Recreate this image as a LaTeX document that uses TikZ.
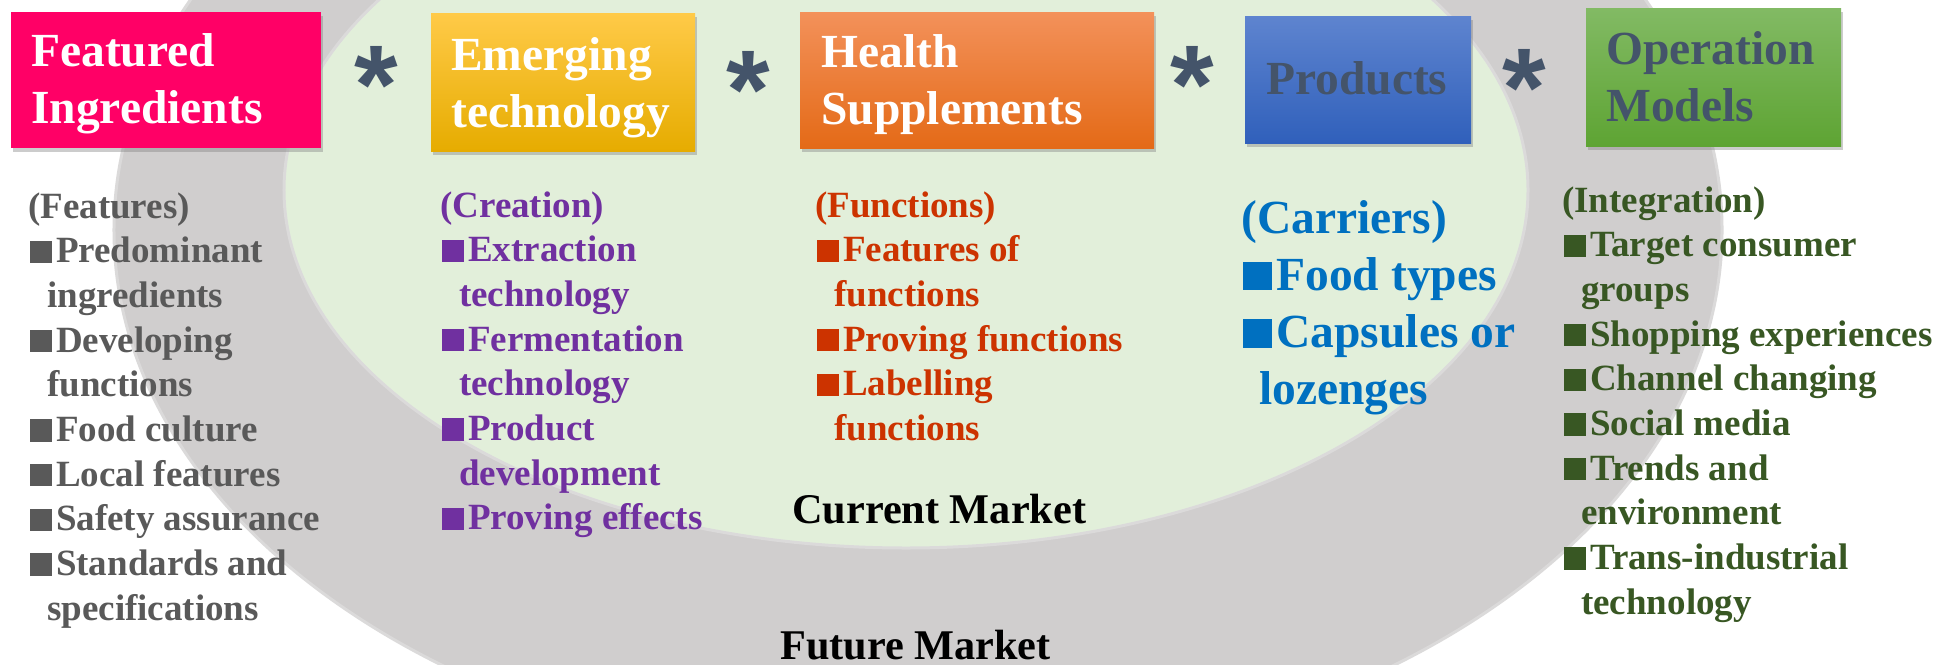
\documentclass[tikz,border=0pt]{standalone}
\usepackage{fontspec}
\setmainfont{Liberation Serif}
\newfontfamily\starfont{Liberation Sans}
\usetikzlibrary{shadows}

\definecolor{futuregray}{HTML}{D0CECE}
\definecolor{currentgreen}{HTML}{E2EFDA}
\definecolor{rimgray}{HTML}{DBDADA}
\definecolor{slate}{HTML}{44546A}
\definecolor{featpink}{HTML}{FF0066}
\definecolor{featgray}{HTML}{595959}
\definecolor{creapurple}{HTML}{7030A0}
\definecolor{funcred}{HTML}{CC3300}
\definecolor{carrblue}{HTML}{0070C0}
\definecolor{integreen}{HTML}{385723}

% square bullet and hanging indent for list lines
\newcommand\bul{\hspace*{2bp}\rule{0.6em}{0.6em}\hspace{0.1em}}
\newcommand\cont{\hspace*{19bp}}

\begin{document}
\begin{tikzpicture}[x=1bp,y=-1bp,
  box/.style={anchor=north west, inner sep=0, draw=none,
    drop shadow={opacity=0.4, shadow xshift=2bp, shadow yshift=-4bp}},
  title/.style={anchor=base west, inner sep=0,
    font=\bfseries\fontsize{47.5bp}{57bp}\selectfont},
  starmark/.style={anchor=north, inner sep=0, text=slate,
    font=\starfont\bfseries\fontsize{112bp}{112bp}\selectfont},
  listcol/.style={anchor=base west, inner sep=0,
    font=\bfseries\fontsize{37bp}{44.7bp}\selectfont},
  market/.style={anchor=base west, inner sep=0, text=black,
    font=\bfseries\fontsize{42.3bp}{50bp}\selectfont}]

\useasboundingbox (0,0) rectangle (1941,665);
\clip (0,0) rectangle (1941,665);
\fill[white] (0,0) rectangle (1941,665);

% market rings
\fill[futuregray, draw=rimgray, line width=3bp] (918,230) ellipse [x radius=804bp, y radius=540bp];
\fill[currentgreen, draw=rimgray, line width=3bp] (906,190) ellipse [x radius=622bp, y radius=358bp];

% factor boxes
\node[box, fill=featpink, minimum width=310bp, minimum height=136bp] (b1) at (11,12) {};
\node[box, top color={rgb,255:red,255;green,202;blue,72}, middle color={rgb,255:red,255;green,192;blue,0}, bottom color={rgb,255:red,230;green,172;blue,0}, minimum width=264bp, minimum height=138bp] (b2) at (431,13) {};
\node[box, top color={rgb,255:red,243;green,145;blue,90}, middle color={rgb,255:red,245;green,126;blue,44}, bottom color={rgb,255:red,228;green,106;blue,23}, minimum width=354bp, minimum height=136bp] (b3) at (800,12) {};
\node[box, top color={rgb,255:red,94;green,132;blue,207}, bottom color={rgb,255:red,48;green,96;blue,187}, minimum width=226bp, minimum height=127bp] (b4) at (1245,16) {};
\node[box, top color={rgb,255:red,130;green,186;blue,100}, bottom color={rgb,255:red,94;green,164;blue,51}, minimum width=255bp, minimum height=138bp] (b5) at (1586,8) {};

% box titles
\node[title, text=white] (t1) at (31,67) {\vtop{\hbox{Featured}\hbox{Ingredients}}};
\node[title, text=white] (t2) at (451,71) {\vtop{\hbox{Emerging}\hbox{technology}}};
\node[title, text=white] (t3) at (821,68) {\vtop{\hbox{Health}\hbox{Supplements}}};
\node[title, text=slate] (t4) at (1266,95) {Products};
\node[title, text=slate] (t5) at (1606,65) {\vtop{\hbox{Operation}\hbox{Models}}};

% multiplication marks
\node[starmark] (s1) at (376,46) {*};
\node[starmark] (s2) at (748,51) {*};
\node[starmark] (s3) at (1192,46) {*};
\node[starmark] (s4) at (1524,49) {*};

% lists under each box
\node[listcol, text=featgray] (l1) at (28,218) {\vtop{%
  \hbox{(Features)}
  \hbox{\bul Predominant}
  \hbox{\cont ingredients}
  \hbox{\bul Developing}
  \hbox{\cont functions}
  \hbox{\bul Food culture}
  \hbox{\bul Local features}
  \hbox{\bul Safety assurance}
  \hbox{\bul Standards and}
  \hbox{\cont specifications}}};

\node[listcol, text=creapurple] (l2) at (440,217) {\vtop{%
  \hbox{(Creation)}
  \hbox{\bul Extraction}
  \hbox{\cont technology}
  \hbox{\bul Fermentation}
  \hbox{\cont technology}
  \hbox{\bul Product}
  \hbox{\cont development}
  \hbox{\bul Proving effects}}};

\node[listcol, text=funcred] (l3) at (815,217) {\vtop{%
  \hbox{(Functions)}
  \hbox{\bul Features of}
  \hbox{\cont functions}
  \hbox{\bul Proving functions}
  \hbox{\bul Labelling}
  \hbox{\cont functions}}};

\node[listcol, text=carrblue, font=\bfseries\fontsize{47.5bp}{57.3bp}\selectfont] (l4) at (1241,233) {\vtop{%
  \hbox{(Carriers)}
  \hbox{\bul Food types}
  \hbox{\bul Capsules or}
  \hbox{\hspace*{18bp}lozenges}}};

\node[listcol, text=integreen] (l5) at (1562,212) {\vtop{%
  \hbox{(Integration)}
  \hbox{\bul Target consumer}
  \hbox{\cont groups}
  \hbox{\bul Shopping experiences}
  \hbox{\bul Channel changing}
  \hbox{\bul Social media}
  \hbox{\bul Trends and}
  \hbox{\cont environment}
  \hbox{\bul Trans-industrial}
  \hbox{\cont technology}}};

% ring labels
\node[market] (cm) at (792,523) {Current Market};
\node[market] (fm) at (780,659) {Future Market};
\end{tikzpicture}
\end{document}
